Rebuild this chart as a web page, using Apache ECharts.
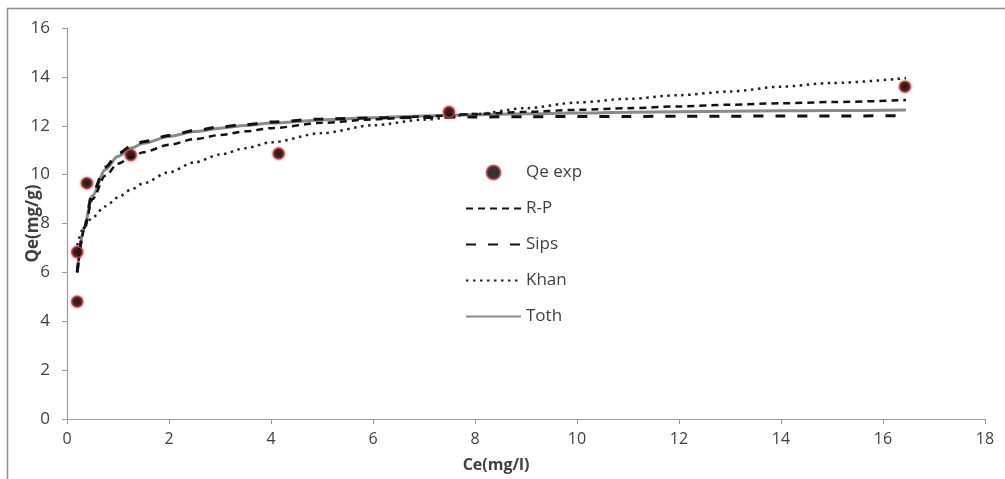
<!DOCTYPE html>
<html>
<head>
<meta charset="utf-8">
<script src="https://cdn.jsdelivr.net/npm/echarts@6/dist/echarts.min.js"></script>
<style>
  html, body { margin: 0; padding: 0; background: #fff; }
  #chart { width: 1005px; height: 479px; }
</style>
</head>
<body>
<div id="chart"></div>
<script>
// Experimental points
const expCe = [0.2, 0.2, 0.39, 1.25, 4.15, 7.49, 16.43];
const expQe = [4.8, 6.83, 9.65, 10.8, 10.86, 12.56, 13.6];

// Model curves at these Ce values
const curveCe = [0.2, 0.33, 0.5, 0.75, 1, 1.25, 1.5, 2, 2.5, 3, 3.5, 4, 5, 6, 7, 8, 9, 10, 11, 12, 13, 14, 15, 16.45];
const rpQe   = [6.0, 7.7, 9.0, 9.95, 10.45, 10.7, 10.92, 11.22, 11.45, 11.62, 11.77, 11.9, 12.12, 12.26, 12.38, 12.48, 12.57, 12.65, 12.72, 12.79, 12.86, 12.92, 12.97, 13.05];
const sipsQe = [6.0, 7.8, 9.25, 10.3, 10.85, 11.15, 11.35, 11.6, 11.8, 11.95, 12.05, 12.15, 12.28, 12.32, 12.34, 12.36, 12.37, 12.38, 12.38, 12.39, 12.39, 12.4, 12.4, 12.41];
const khanQe = [7.1, 7.85, 8.25, 8.7, 9.07, 9.38, 9.65, 10.1, 10.5, 10.82, 11.08, 11.32, 11.7, 12.02, 12.25, 12.48, 12.72, 12.95, 13.1, 13.25, 13.4, 13.6, 13.75, 13.95];
const tothQe = [6.0, 7.8, 9.15, 10.2, 10.75, 11.08, 11.28, 11.56, 11.76, 11.9, 12.01, 12.11, 12.24, 12.33, 12.4, 12.45, 12.49, 12.52, 12.55, 12.57, 12.59, 12.61, 12.62, 12.64];

const pairs = (xs, ys) => xs.map((x, i) => [x, ys[i]]);

const font = '"Open Sans", Lato, sans-serif';
const axisGray = '#9a9a9a';
const textGray = '#404040';

const chart = echarts.init(document.getElementById('chart'));

const lineSeries = (name, ys, lineStyle) => ({
    name,
    type: 'line',
    data: pairs(curveCe, ys),
    symbol: 'none',
    smooth: 0.3,
    smoothMonotone: 'x',
    lineStyle,
    itemStyle: { color: lineStyle.color },
    silent: true
});

// legend line icons without the point symbol
const lineLegend = name => ({ name, itemStyle: { opacity: 0 } });

chart.setOption({
    animation: false,
    textStyle: { fontFamily: font },
    grid: { left: 67, right: 20, top: 28, bottom: 60, outerBoundsMode: 'none', containLabel: false },
    xAxis: {
        type: 'value',
        min: 0, max: 18, interval: 2,
        name: 'Ce(mg/l)',
        nameLocation: 'middle',
        nameGap: 38,
        nameMoveOverlap: false,
        nameTextStyle: { fontSize: 16, fontWeight: 'bold', color: textGray, padding: [0, 60, 0, 0] },
        axisLine: { lineStyle: { color: axisGray, width: 1.2 } },
        axisTick: { show: true, length: 5, lineStyle: { color: axisGray } },
        axisLabel: { fontSize: 16, color: textGray, margin: 12 },
        splitLine: { show: false }
    },
    yAxis: {
        type: 'value',
        min: 0, max: 16, interval: 2,
        name: 'Qe(mg/g)',
        nameLocation: 'middle',
        nameGap: 25,
        nameMoveOverlap: false,
        nameTextStyle: { fontSize: 17, fontWeight: 'bold', color: textGray },
        axisLine: { show: true, lineStyle: { color: axisGray, width: 1.2 } },
        axisTick: { show: true, length: 5, lineStyle: { color: axisGray } },
        axisLabel: { fontSize: 17, color: textGray, margin: 17 },
        splitLine: { show: false }
    },
    legend: {
        orient: 'vertical',
        left: 465,
        top: 164,
        padding: 0,
        itemWidth: 55,
        itemHeight: 14,
        itemGap: 19,
        textStyle: { fontSize: 17, color: textGray },
        data: [
            { name: 'Qe exp', icon: 'circle' },
            lineLegend('R-P'), lineLegend('Sips'), lineLegend('Khan'), lineLegend('Toth')
        ]
    },
    graphic: [{
        type: 'rect',
        shape: { x: 7.5, y: 8.5, width: 1200, height: 800 },
        style: { fill: 'none', stroke: '#8c8c8c', lineWidth: 1.5 },
        silent: true
    }],
    series: [
        lineSeries('Toth', tothQe, { color: '#8a8a8a', width: 3, type: 'solid' }),
        lineSeries('Sips', sipsQe, { color: '#111', width: 3, type: [10, 12] }),
        lineSeries('R-P', rpQe, { color: '#111', width: 2.5, type: [7, 5] }),
        lineSeries('Khan', khanQe, { color: '#222', width: 2.5, type: [2.5, 4.5] }),
        {
            name: 'Qe exp',
            type: 'scatter',
            data: pairs(expCe, expQe),
            symbol: 'circle',
            symbolSize: 11,
            itemStyle: {
                color: '#000',
                borderColor: '#c94040',
                borderWidth: 1.5,
                shadowBlur: 3,
                shadowColor: 'rgba(220,60,60,0.7)'
            },
            z: 5
        }
    ]
});
</script>
</body>
</html>
